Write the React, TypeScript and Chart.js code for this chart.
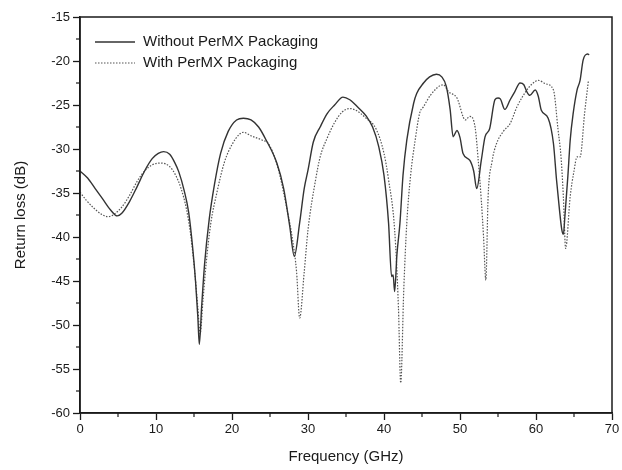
import React, { useEffect, useRef } from "react";
import { Chart, registerables } from "chart.js";

Chart.register(...registerables);

// Without PerMX Packaging (solid)
const freqWithout = [0, 1, 2, 3, 4, 4.9, 5.5, 6.5, 7.5, 8.5, 9.5, 10.3, 11, 11.8, 12.5, 13, 13.7, 14.3, 14.8, 15.2, 15.5, 15.7, 16.0, 16.4, 17, 17.7, 18.5, 19.5, 20.6, 21.5, 22.5, 23.5, 24.5, 25.9, 26.8, 27.6, 28.2, 28.9, 29.5, 30, 30.7, 31.6, 32.5, 33.5, 34.6, 35.5, 36.5, 37.7, 38.5, 39.3, 40, 40.6, 41.0, 41.2, 41.4, 41.7, 42.1, 42.5, 43, 43.9, 44.3, 45.2, 46, 46.9, 47.6, 48.2, 48.7, 49.1, 49.6, 50, 50.4, 51.3, 51.8, 52.2, 52.8, 53.3, 53.9, 54.6, 55.0, 55.3, 55.9, 56.6, 57.2, 57.9, 58.4, 58.8, 59.2, 59.9, 60.3, 60.7, 61.6, 62.3, 62.7, 63.1, 63.4, 63.6, 63.8, 64.2, 64.5, 64.9, 65.4, 65.8, 66.2, 66.8, 67.0];
const lossWithout = [-32.5, -33.3, -34.5, -35.7, -36.9, -37.6, -37.3, -36, -34.3, -32.5, -31.1, -30.5, -30.3, -30.6, -31.6, -32.6, -34.7, -37.2, -41, -45, -49, -52.2, -48, -43, -38, -34, -30.5, -28, -26.7, -26.5, -26.7, -27.5, -29, -31.6, -34.5, -38.8, -42.2, -38.4, -34.5, -32.4, -29.2, -27.5, -26, -25, -24.1, -24.4, -25.2, -26.3, -27.5, -29.7, -33, -38.4, -44.5, -44.3, -46.2, -42, -38.4, -33, -29, -24.8, -23.7, -22.5, -21.8, -21.5, -21.8, -22.9, -25.5, -28.6, -27.9, -28.7, -30.5, -31.3, -32.5, -34.5, -31.3, -28.6, -27.7, -24.4, -24.2, -24.3, -25.5, -24.4, -23.5, -22.5, -22.7, -23.5, -23.9, -23.3, -24, -25.6, -26.5, -29.4, -33.5, -37, -39.2, -39.7, -37.7, -33, -29, -25.9, -23.3, -22.2, -19.9, -19.2, -19.3];

// With PerMX Packaging (dotted)
const freqWith = [0, 0.8, 1.8, 2.8, 3.7, 4.5, 5.5, 6.5, 7.5, 8.5, 9.5, 10.7, 11.8, 12.6, 13.3, 14, 14.6, 15.1, 15.5, 15.8, 16.2, 16.6, 17.2, 18, 19, 20, 21, 21.5, 22.5, 24, 24.8, 26, 27.2, 28, 28.5, 28.9, 29.5, 30, 31, 31.6, 32.5, 33.5, 34.5, 35.5, 36.5, 37.5, 39, 40, 40.6, 41.4, 41.9, 42.2, 42.6, 43, 43.5, 44.1, 44.7, 45.2, 46.1, 47.8, 48.5, 49.6, 50.7, 51.3, 52, 52.4, 52.8, 53.1, 53.4, 53.7, 54.2, 54.8, 55.7, 56.6, 57.5, 58.8, 59.5, 60.3, 61.3, 62.3, 62.9, 63.3, 63.6, 63.9, 64.5, 65, 65.4, 65.8, 66.4, 66.9];
const lossWith = [-34.9, -35.8, -36.7, -37.4, -37.7, -37.4, -36.6, -35.3, -33.7, -32.5, -31.8, -31.6, -32.0, -33, -34.5, -36.8, -40, -44, -48, -51, -47, -43, -38.5, -35, -31.5, -29.5, -28.3, -28.1, -28.5, -29, -29.4, -32, -36.7, -40.5, -44, -49.2, -44, -39.2, -33.5, -30.9, -28.8, -27, -25.8, -25.4, -25.7, -26.4, -27.8, -30.5, -33.5, -39.2, -48, -56.6, -46, -38.4, -33, -29, -25.9, -25.2, -23.9, -22.7, -23.5, -24.2, -26.7, -26.3, -27.6, -31.3, -35.8, -40, -44.9, -35.4, -31.5, -29.4, -28, -27.1, -25.2, -23.3, -22.6, -22.2, -22.6, -23.3, -27.8, -31, -35.4, -41.3, -35.4, -32.5, -30.9, -30.9, -25.9, -22.2];

const seriesLabels = ["Without PerMX Packaging", "With PerMX Packaging"];
const xTitle = "Frequency (GHz)";
const yTitle = "Return loss (dB)";

const FONT = "'Liberation Sans', Arial, sans-serif";
const INK = "#1a1a1a";

const framePlugin = {
  id: "frameAndMinor",
  afterDraw(chart: any) {
    const { ctx, chartArea: a, scales } = chart;
    ctx.save();
    ctx.strokeStyle = INK;
    ctx.lineWidth = 1.5;
    ctx.strokeRect(a.left, a.top, a.right - a.left, a.bottom - a.top);
    // minor ticks
    ctx.lineWidth = 1.2;
    const xs = scales.x;
    for (let v = 5; v < 70; v += 10) {
      const px = xs.getPixelForValue(v);
      ctx.beginPath();
      ctx.moveTo(px, a.bottom);
      ctx.lineTo(px, a.bottom + 4);
      ctx.stroke();
    }
    const ys = scales.y;
    for (let v = -57.5; v < -15; v += 5) {
      const py = ys.getPixelForValue(v);
      ctx.beginPath();
      ctx.moveTo(a.left, py);
      ctx.lineTo(a.left - 4, py);
      ctx.stroke();
    }
    // legend
    const lx0 = a.left + 15;
    const lx1 = a.left + 55;
    const rows = [a.top + 25, a.top + 46];
    ctx.font = `15px ${FONT}`;
    ctx.fillStyle = INK;
    ctx.textBaseline = "middle";
    rows.forEach((ry, i) => {
      ctx.beginPath();
      ctx.strokeStyle = i === 0 ? "#333" : "#555";
      ctx.lineWidth = i === 0 ? 1.3 : 1.1;
      ctx.setLineDash(i === 0 ? [] : [1.5, 1.5]);
      ctx.moveTo(lx0, ry);
      ctx.lineTo(lx1, ry);
      ctx.stroke();
      ctx.setLineDash([]);
      ctx.fillText(seriesLabels[i], a.left + 63, ry);
    });
    ctx.restore();
  },
};

export default function App() {
  const ref = useRef<HTMLCanvasElement | null>(null);
  useEffect(() => {
    document.body.style.margin = "0";
    const canvas = ref.current!;
    const chart = new Chart(canvas, {
      type: "line",
      data: {
        datasets: [
          {
            label: seriesLabels[0],
            data: freqWithout.map((f, i) => ({ x: f, y: lossWithout[i] })),
            borderColor: "#333",
            borderWidth: 1.4,
            pointRadius: 0,
            cubicInterpolationMode: "monotone",
          },
          {
            label: seriesLabels[1],
            data: freqWith.map((f, i) => ({ x: f, y: lossWith[i] })),
            borderColor: "#555",
            borderWidth: 1.2,
            borderDash: [1.5, 1.5],
            pointRadius: 0,
            cubicInterpolationMode: "monotone",
          },
        ],
      },
      options: {
        responsive: false,
        animation: false,
        layout: { padding: { top: 17, right: 10, left: 0, bottom: 0 } },
        plugins: { legend: { display: false }, tooltip: { enabled: false } },
        scales: {
          x: {
            type: "linear",
            min: 0,
            max: 70,
            afterFit: (s: any) => { s.height = 57; },
            ticks: { stepSize: 10, color: INK, font: { family: FONT, size: 13 }, padding: 2, maxRotation: 0 },
            grid: { drawOnChartArea: false, drawTicks: true, tickLength: 7, tickColor: INK, tickWidth: 1.3 },
            border: { display: true, color: INK, width: 1.5 },
            title: { display: true, text: xTitle, color: INK, font: { family: FONT, size: 15 }, padding: { top: 4, bottom: 4 } },
          },
          y: {
            min: -60,
            max: -15,
            afterFit: (s: any) => { s.width = 80; },
            ticks: { stepSize: 5, color: INK, font: { family: FONT, size: 13 }, padding: 3 },
            grid: { drawOnChartArea: false, drawTicks: true, tickLength: 7, tickColor: INK, tickWidth: 1.3 },
            border: { display: true, color: INK, width: 1.5 },
            title: { display: true, text: yTitle, color: INK, font: { family: FONT, size: 15 }, padding: { top: 12, bottom: 4 } },
          },
        },
      },
      plugins: [framePlugin],
    });
    return () => chart.destroy();
  }, []);
  return (
    <div style={{ width: 622, height: 470, background: "#fff" }}>
      <canvas ref={ref} width={622} height={470} />
    </div>
  );
}
